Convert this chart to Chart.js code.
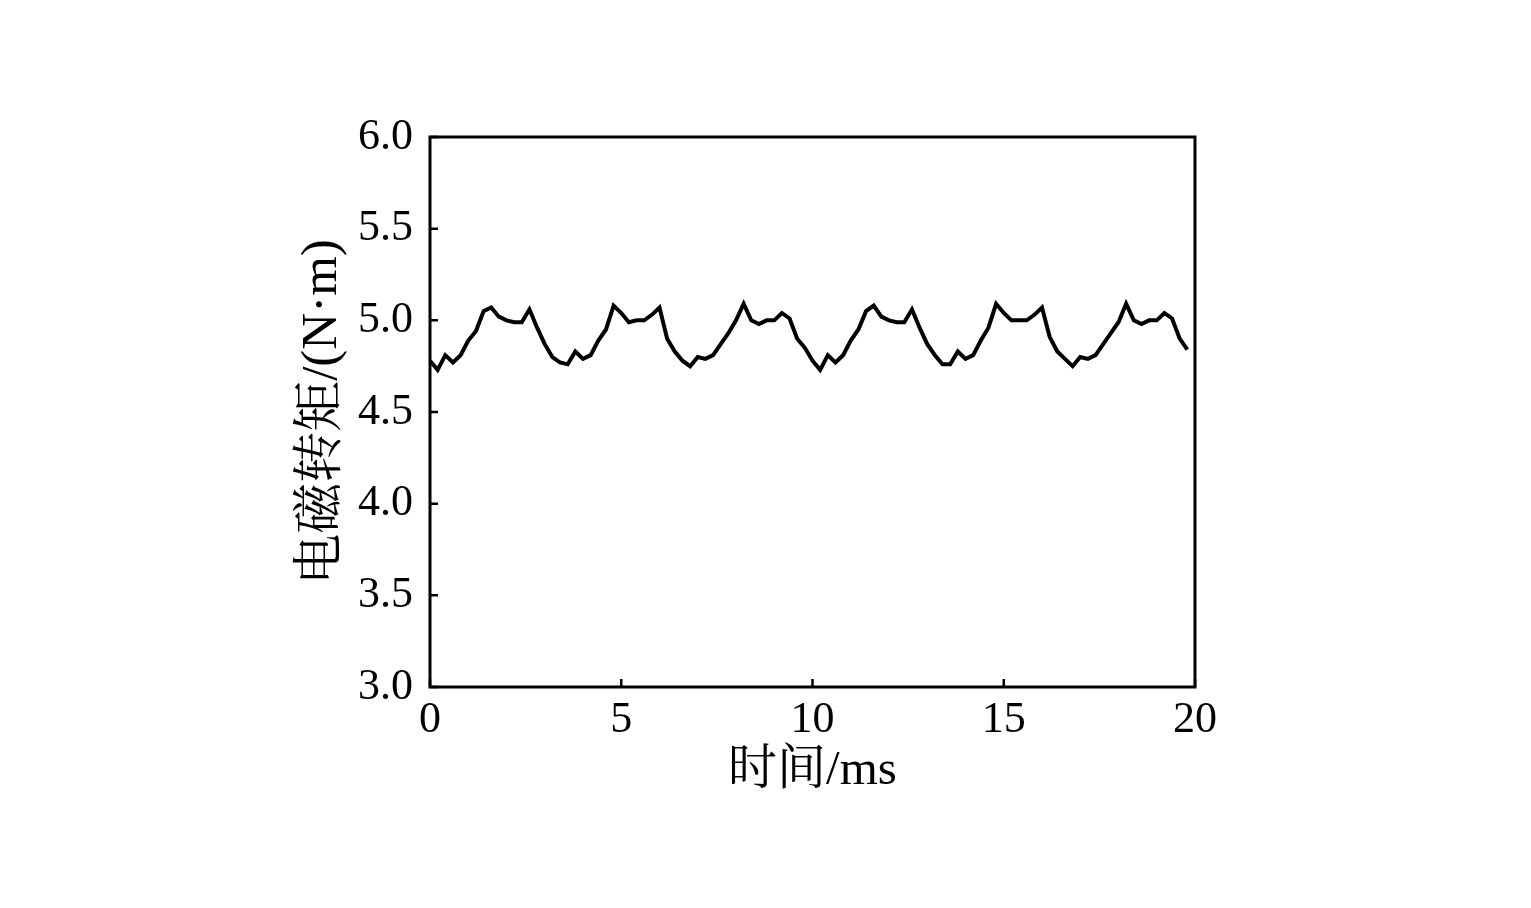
<!DOCTYPE html>
<html lang="zh">
<head>
  <meta charset="UTF-8" />
  <title>电磁转矩</title>
  <script src="https://cdn.jsdelivr.net/npm/chart.js"></script>
  <style>
    body {
      margin: 0;
      background: #ffffff;
    }
    .wrap {
      width: 1531px;
      height: 908px;
      position: relative;
    }
  </style>
</head>
<body>
  <div class="wrap"><canvas id="torqueChart"></canvas></div>
  <script>
    // time axis, ms
    const timeMs = [
      0, 0.2, 0.4, 0.6, 0.8, 1.0, 1.2, 1.4, 1.6, 1.8,
      2.0, 2.2, 2.4, 2.6, 2.8, 3.0, 3.2, 3.4, 3.6, 3.8,
      4.0, 4.2, 4.4, 4.6, 4.8, 5.0, 5.2, 5.4, 5.6, 5.8,
      6.0, 6.2, 6.4, 6.6, 6.8, 7.0, 7.2, 7.4, 7.6, 7.8,
      8.0, 8.2, 8.4, 8.6, 8.8, 9.0, 9.2, 9.4, 9.6, 9.8,
      10.0, 10.2, 10.4, 10.6, 10.8, 11.0, 11.2, 11.4, 11.6, 11.8,
      12.0, 12.2, 12.4, 12.6, 12.8, 13.0, 13.2, 13.4, 13.6, 13.8,
      14.0, 14.2, 14.4, 14.6, 14.8, 15.0, 15.2, 15.4, 15.6, 15.8,
      16.0, 16.2, 16.4, 16.6, 16.8, 17.0, 17.2, 17.4, 17.6, 17.8,
      18.0, 18.2, 18.4, 18.6, 18.8, 19.0, 19.2, 19.4, 19.6, 19.8
    ];
    // electromagnetic torque, N·m
    const torque = [
      4.78, 4.73, 4.81, 4.77, 4.81, 4.89, 4.94, 5.05, 5.07, 5.02,
      5.00, 4.99, 4.99, 5.06, 4.96, 4.87, 4.80, 4.77, 4.76, 4.83,
      4.79, 4.81, 4.89, 4.95, 5.08, 5.04, 4.99, 5.00, 5.00, 5.03,
      5.07, 4.90, 4.83, 4.78, 4.75, 4.80, 4.79, 4.81, 4.87, 4.93,
      5.00, 5.09, 5.00, 4.98, 5.00, 5.00, 5.04, 5.01, 4.90, 4.85,
      4.78, 4.73, 4.81, 4.77, 4.81, 4.89, 4.95, 5.05, 5.08, 5.02,
      5.00, 4.99, 4.99, 5.06, 4.96, 4.87, 4.81, 4.76, 4.76, 4.83,
      4.79, 4.81, 4.89, 4.96, 5.09, 5.04, 5.00, 5.00, 5.00, 5.03,
      5.07, 4.91, 4.83, 4.79, 4.75, 4.80, 4.79, 4.81, 4.87, 4.93,
      4.99, 5.09, 5.00, 4.98, 5.00, 5.00, 5.04, 5.01, 4.90, 4.84
    ];
    const xTicks = [0, 5, 10, 15, 20];
    const yTicks = [3.0, 3.5, 4.0, 4.5, 5.0, 5.5, 6.0];
    const xTitle = '时间/ms';
    const yTitle = '电磁转矩/(N·m)';

    const serif = "'Liberation Serif', 'Times New Roman', 'Noto Serif CJK SC', 'Noto Sans CJK SC', serif";

    // frame box plus inward tick marks on the left and bottom axes
    const frameAndTicks = {
      id: 'frameAndTicks',
      afterDraw(chart) {
        const { ctx, chartArea: a, scales } = chart;
        ctx.save();
        ctx.strokeStyle = '#000';
        ctx.lineWidth = 3;
        ctx.strokeRect(a.left, a.top, a.right - a.left, a.bottom - a.top);
        ctx.lineWidth = 2.5;
        ctx.beginPath();
        xTicks.forEach(v => {
          const px = scales.x.getPixelForValue(v);
          ctx.moveTo(px, a.bottom);
          ctx.lineTo(px, a.bottom - 8);
        });
        yTicks.forEach(v => {
          const py = scales.y.getPixelForValue(v);
          ctx.moveTo(a.left, py);
          ctx.lineTo(a.left + 8, py);
        });
        ctx.stroke();
        ctx.restore();
      }
    };

    new Chart(document.getElementById('torqueChart'), {
      type: 'line',
      data: {
        datasets: [{
          data: timeMs.map((t, i) => ({ x: t, y: torque[i] })),
          borderColor: '#000',
          borderWidth: 4,
          pointRadius: 0,
          tension: 0,
          fill: false
        }]
      },
      options: {
        responsive: true,
        maintainAspectRatio: false,
        animation: false,
        layout: { padding: { top: 137, right: 336, left: 0, bottom: 0 } },
        plugins: { legend: { display: false }, tooltip: { enabled: false } },
        scales: {
          x: {
            type: 'linear',
            min: 0,
            max: 20,
            afterBuildTicks: s => { s.ticks = xTicks.map(v => ({ value: v })); },
            afterFit: s => { s.height = 221; },
            grid: { display: false, drawTicks: false },
            border: { display: false },
            ticks: {
              color: '#000',
              padding: 7,
              maxRotation: 0,
              font: { family: serif, size: 44 }
            },
            title: {
              display: true,
              text: xTitle,
              color: '#000',
              font: { family: serif, size: 49 },
              padding: { top: 0, bottom: 107 }
            }
          },
          y: {
            min: 3,
            max: 6,
            afterBuildTicks: s => { s.ticks = yTicks.map(v => ({ value: v })); },
            afterFit: s => { s.width = 430; },
            grid: { display: false, drawTicks: false },
            border: { display: false },
            ticks: {
              color: '#000',
              padding: 17,
              font: { family: serif, size: 44 },
              callback: v => Number(v).toFixed(1)
            },
            title: {
              display: true,
              text: yTitle,
              color: '#000',
              font: { family: serif, size: 51 },
              padding: { top: 292, bottom: 0 }
            }
          }
        }
      },
      plugins: [frameAndTicks]
    });
  </script>
</body>
</html>
